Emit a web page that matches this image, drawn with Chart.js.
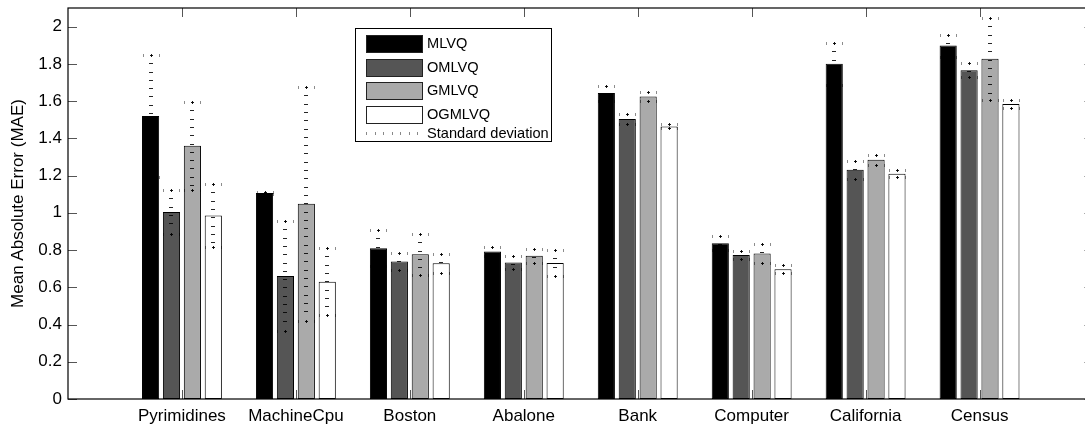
<!DOCTYPE html>
<html>
<head>
<meta charset="utf-8">
<script src="https://cdn.jsdelivr.net/npm/chart.js@4/dist/chart.umd.min.js"></script>
<style>
  html, body { margin: 0; padding: 0; background: #fff; overflow: hidden; }
  #wrap { width: 1085px; height: 425px; overflow: hidden; }
</style>
</head>
<body>
<div id="wrap"><canvas id="maeChart" width="1100" height="425"></canvas></div>
<script>
  // datasets along the x axis
  const categories = ['Pyrimidines', 'MachineCpu', 'Boston', 'Abalone', 'Bank', 'Computer', 'California', 'Census'];

  // mean absolute error per method
  const mlvq   = [1.52, 1.107, 0.81, 0.792, 1.643, 0.837, 1.80, 1.898];
  const omlvq  = [1.005, 0.66, 0.738, 0.733, 1.504, 0.774, 1.231, 1.765];
  const gmlvq  = [1.36, 1.048, 0.778, 0.769, 1.625, 0.781, 1.285, 1.828];
  const ogmlvq = [0.985, 0.63, 0.729, 0.73, 1.464, 0.697, 1.21, 1.584];

  // standard deviations (error bars)
  const mlvqStd   = [0.33, 0.005, 0.095, 0.023, 0.04, 0.039, 0.112, 0.059];
  const omlvqStd  = [0.12, 0.295, 0.047, 0.035, 0.026, 0.022, 0.047, 0.038];
  const gmlvqStd  = [0.235, 0.63, 0.11, 0.036, 0.025, 0.05, 0.027, 0.22];
  const ogmlvqStd = [0.17, 0.18, 0.05, 0.068, 0.011, 0.022, 0.018, 0.022];

  const yTicks = [0, 0.2, 0.4, 0.6, 0.8, 1, 1.2, 1.4, 1.6, 1.8, 2];

  const toPoints = arr => arr.map((v, i) => ({ x: i + 1, y: v }));

  Chart.defaults.font.family = '"Liberation Sans", Arial, Helvetica, sans-serif';
  Chart.defaults.color = '#000';

  // dotted error bars, drawn the way matlab's ':' errorbar comes out
  // (all in translucent black so they vanish on the black bars)
  const errorBars = {
    id: 'errorBars',
    afterDatasetsDraw(chart) {
      const ctx = chart.ctx;
      const y = chart.scales.y;
      ctx.save();
      chart.data.datasets.forEach((ds, d) => {
        chart.getDatasetMeta(d).data.forEach((bar, i) => {
          const x = Math.round(bar.x);
          const mean = ds.data[i].y;
          const top = Math.round(y.getPixelForValue(mean + ds.std[i]));
          const bot = Math.round(y.getPixelForValue(mean - ds.std[i]));
          ctx.fillStyle = 'rgba(0,0,0,0.85)';
          for (let p = top + 8.3; p < bot - 3; p += 8.3) {
            ctx.fillRect(x - 2, Math.round(p), 4, 1);
          }
          [top, bot].forEach(cy => {
            ctx.fillStyle = 'rgba(0,0,0,0.9)';
            ctx.fillRect(x, cy - 1, 1, 3);
            ctx.fillRect(x - 1, cy, 3, 1);
            ctx.fillStyle = 'rgba(0,0,0,0.45)';
            ctx.fillRect(x - 8, cy - 1, 1, 3);
            ctx.fillRect(x + 8, cy - 1, 1, 3);
          });
        });
      });
      ctx.restore();
    }
  };

  // box around the axes with inward ticks on all four sides
  const frame = {
    id: 'frame',
    beforeDatasetsDraw(chart) {
      const { ctx, chartArea: a, scales: { x, y } } = chart;
      ctx.save();
      ctx.strokeStyle = '#555';
      ctx.lineWidth = 1;
      ctx.beginPath();
      x.ticks.forEach(t => {
        const px = Math.round(x.getPixelForValue(t.value)) + 0.5;
        ctx.moveTo(px, a.bottom); ctx.lineTo(px, a.bottom - 9);
        ctx.moveTo(px, a.top); ctx.lineTo(px, a.top + 9);
      });
      y.ticks.forEach(t => {
        const py = Math.round(y.getPixelForValue(t.value)) + 0.5;
        ctx.moveTo(a.left, py); ctx.lineTo(a.left + 9, py);
        ctx.moveTo(a.right, py); ctx.lineTo(a.right - 9, py);
      });
      ctx.stroke();
      ctx.restore();
    },
    afterDatasetsDraw(chart) {
      const { ctx, chartArea: a } = chart;
      ctx.save();
      ctx.strokeStyle = '#000';
      ctx.lineWidth = 1.2;
      ctx.strokeRect(a.left, a.top, a.right - a.left, a.bottom - a.top);
      ctx.restore();
    }
  };

  // legend box in the upper middle of the plot
  const boxLegend = {
    id: 'boxLegend',
    afterDraw(chart) {
      const ctx = chart.ctx;
      ctx.save();
      ctx.fillStyle = '#fff';
      ctx.fillRect(355.5, 28.5, 196, 113);
      ctx.strokeStyle = '#000';
      ctx.lineWidth = 1;
      ctx.strokeRect(355.5, 28.5, 196, 113);
      ctx.font = '14.6px "Liberation Sans", Arial, sans-serif';
      ctx.textBaseline = 'middle';
      chart.data.datasets.forEach((ds, i) => {
        const top = 35 + i * 23.7;
        ctx.fillStyle = ds.backgroundColor;
        ctx.fillRect(366.5, Math.round(top) + 0.5, 56, 17);
        ctx.strokeStyle = '#222';
        ctx.strokeRect(366.5, Math.round(top) + 0.5, 56, 17);
        ctx.fillStyle = '#000';
        ctx.fillText(ds.label, 427, top + 9);
      });
      ctx.fillStyle = '#888';
      for (let k = 0; k < 7; k++) ctx.fillRect(Math.round(366 + k * 8.5), 132, 1, 3);
      ctx.fillStyle = '#000';
      ctx.fillText('Standard deviation', 427, 133.5);
      ctx.restore();
    }
  };

  const barStyle = { borderColor: '#000', borderWidth: 1, borderSkipped: false,
                     categoryPercentage: 0.734, barPercentage: 0.82 };

  new Chart(document.getElementById('maeChart').getContext('2d'), {
    type: 'bar',
    data: {
      datasets: [
        { label: 'MLVQ',   data: toPoints(mlvq),   std: mlvqStd,   backgroundColor: '#000000', ...barStyle },
        { label: 'OMLVQ',  data: toPoints(omlvq),  std: omlvqStd,  backgroundColor: '#555555', ...barStyle },
        { label: 'GMLVQ',  data: toPoints(gmlvq),  std: gmlvqStd,  backgroundColor: '#aaaaaa', ...barStyle },
        { label: 'OGMLVQ', data: toPoints(ogmlvq), std: ogmlvqStd, backgroundColor: '#ffffff', ...barStyle }
      ]
    },
    options: {
      responsive: false,
      animation: false,
      layout: { padding: { top: 8, right: 6.5, left: 0, bottom: 0 } },
      plugins: { legend: { display: false }, tooltip: { enabled: false } },
      scales: {
        x: {
          type: 'linear',
          min: 0, max: 9,
          offset: false,
          afterFit: s => { s.height = 26; s.paddingLeft = 0; s.paddingRight = 0; },
          afterBuildTicks: s => { s.ticks = categories.map((c, i) => ({ value: i + 1 })); },
          grid: { display: false, drawTicks: false },
          border: { display: false },
          ticks: {
            padding: 7,
            maxRotation: 0,
            autoSkip: false,
            font: { size: 17 },
            callback: v => categories[v - 1]
          }
        },
        y: {
          min: 0, max: 2.1,
          afterFit: s => { s.width = 68; s.paddingTop = 0; s.paddingBottom = 0; },
          afterBuildTicks: s => { s.ticks = yTicks.map(v => ({ value: v })); },
          grid: { display: false, drawTicks: false },
          border: { display: false },
          ticks: {
            padding: 6,
            font: { size: 17 },
            callback: v => String(+v.toFixed(1))
          },
          title: {
            display: true,
            text: 'Mean Absolute Error (MAE)',
            font: { size: 17 },
            padding: { top: 8, bottom: 0 }
          }
        }
      }
    },
    plugins: [errorBars, frame, boxLegend]
  });
</script>
</body>
</html>
